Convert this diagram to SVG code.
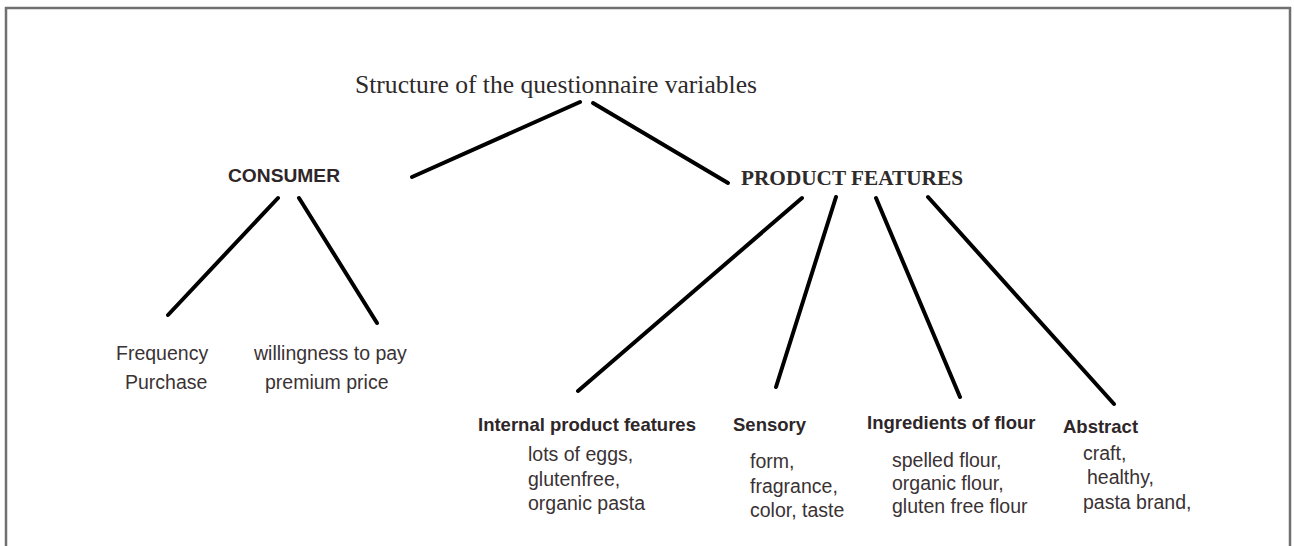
<svg xmlns="http://www.w3.org/2000/svg" width="1294" height="546" viewBox="0 0 1294 546">
<style>
.frame{fill:none;stroke:#707070;stroke-width:2.5}
.ln{stroke:#000;stroke-width:4;stroke-linecap:round;fill:none}
.t{font-family:"Liberation Sans",Arial,sans-serif;font-size:19.5px;fill:#3a3234}
.b{font-family:"Liberation Sans",Arial,sans-serif;font-size:18.5px;font-weight:bold;fill:#2e2628}
.s{font-family:"Liberation Serif","Times New Roman",serif;fill:#2e2a2a}
</style>
<rect width="1294" height="546" fill="#ffffff"/>
<path class="frame" d="M6,546 V8 H1290 V546"/>
<g id="connectors">
<line class="ln" x1="580" y1="102" x2="412" y2="177"/>
<line class="ln" x1="593" y1="103" x2="728" y2="183"/>
<line class="ln" x1="278" y1="198" x2="168" y2="315"/>
<line class="ln" x1="299" y1="198" x2="377" y2="323"/>
<line class="ln" x1="802" y1="198" x2="578" y2="391"/>
<line class="ln" x1="836" y1="197" x2="776" y2="387"/>
<line class="ln" x1="876" y1="198" x2="960" y2="397"/>
<line class="ln" x1="928" y1="197" x2="1114" y2="404"/>
</g>
<g id="root"><text class="s" x="355" y="93" font-size="25" textLength="402" lengthAdjust="spacingAndGlyphs">Structure of the questionnaire variables</text></g>
<g id="consumer"><text class="b" x="228" y="182" textLength="112" lengthAdjust="spacingAndGlyphs">CONSUMER</text></g>
<g id="product-features"><text class="s" x="741" y="185" font-size="20" font-weight="bold" textLength="222" lengthAdjust="spacingAndGlyphs">PRODUCT FEATURES</text></g>
<g id="frequency-purchase">
<text class="t" x="116" y="360">Frequency</text>
<text class="t" x="125" y="389">Purchase</text>
</g>
<g id="willingness">
<text class="t" x="254" y="360">willingness to pay</text>
<text class="t" x="265" y="389">premium price</text>
</g>
<g id="internal">
<text class="b" x="478" y="431">Internal product features</text>
<text class="t" x="528" y="461">lots of eggs,</text>
<text class="t" x="528" y="486">glutenfree,</text>
<text class="t" x="528" y="510">organic pasta</text>
</g>
<g id="sensory">
<text class="b" x="733" y="431">Sensory</text>
<text class="t" x="750" y="468">form,</text>
<text class="t" x="750" y="493">fragrance,</text>
<text class="t" x="750" y="517">color, taste</text>
</g>
<g id="ingredients">
<text class="b" x="867" y="429">Ingredients of flour</text>
<text class="t" x="892" y="467">spelled flour,</text>
<text class="t" x="892" y="490">organic flour,</text>
<text class="t" x="892" y="513">gluten free flour</text>
</g>
<g id="abstract">
<text class="b" x="1063" y="433">Abstract</text>
<text class="t" x="1083" y="460">craft,</text>
<text class="t" x="1087" y="484">healthy,</text>
<text class="t" x="1083" y="509">pasta brand,</text>
</g>
</svg>
